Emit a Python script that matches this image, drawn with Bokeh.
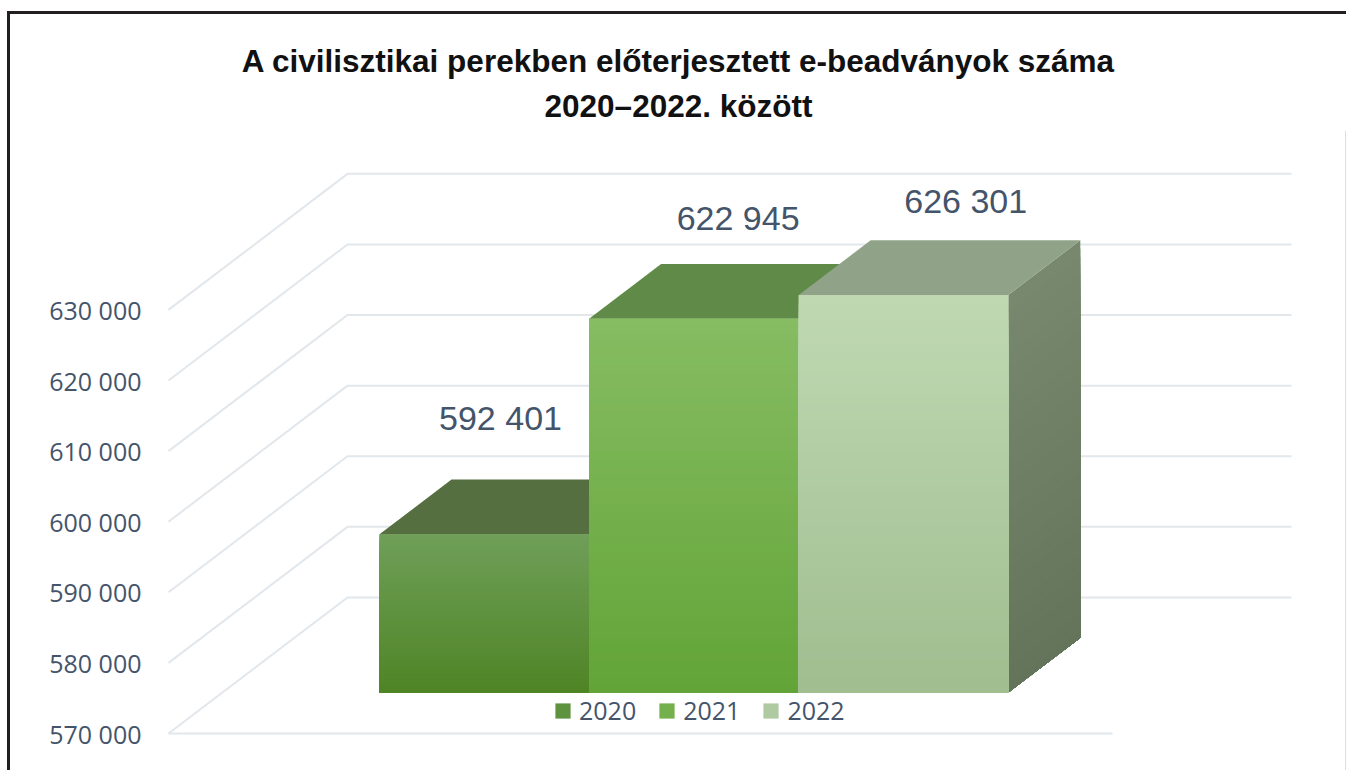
from bokeh.plotting import figure
from bokeh.models import Range1d, FixedTicker, Legend, LegendItem, Title
from bokeh.core.properties import value
from bokeh.embed import file_html
from bokeh.resources import INLINE

# ---- data ----
years = ["2020", "2021", "2022"]
counts = [592401, 622945, 626301]
count_labels = ["592 401", "622 945", "626 301"]
y_ticks = [570000, 580000, 590000, 600000, 610000, 620000, 630000]
y_tick_labels = ["570 000", "580 000", "590 000", "600 000", "610 000", "620 000", "630 000"]
title_lines = ["A civilisztikai perekben előterjesztett e-beadványok száma", "2020–2022. között"]

front_top = ["#6f9f58", "#86bc62", "#bfd8b2"]
front_bottom = ["#4f8425", "#62a437", "#9fbd8f"]
roof = ["#566f41", "#5f8a47", "#90a288"]
side_top = ["#56703f", "#5c8043", "#78886e"]
side_bottom = ["#3f5f20", "#4a7428", "#63745a"]

# ---- layout (page pixels) ----
LEFT, TOP = 10, 14             # where the canvas starts on the page
W, H = 1336, 756
FRAME_TOP = 130
PX = 0.00706                   # pixels per unit of the value axis
BASE_PY = 733                  # page y of the 570 000 front gridline
Y0 = y_ticks[0]
u = 1 / PX                     # value units per pixel

ORIGIN_X, SLANT = 168, 0.76
BACK_D = 179                   # depth of the chart box
RIGHT_W = 944                  # width of the floor
BAR_D0, BAR_DEPTH = 54, 72     # bar position in depth and bar depth
BAR_X0, BAR_W = 379, 209.6
STRIPS = 48


def lift(d):
    return d * SLANT * u


def mix(a, b, t):
    pa = [int(a[i:i + 2], 16) for i in (1, 3, 5)]
    pb = [int(b[i:i + 2], 16) for i in (1, 3, 5)]
    return "#%02x%02x%02x" % tuple(round(x + (y - x) * t) for x, y in zip(pa, pb))


p = figure(width=W, height=H, output_backend="svg", toolbar_location=None,
           x_range=Range1d(LEFT, LEFT + W),
           y_range=Range1d(Y0 - (TOP + H - BASE_PY) * u, Y0 + (BASE_PY - FRAME_TOP) * u),
           min_border_top=FRAME_TOP - TOP, min_border_left=0, min_border_right=0, min_border_bottom=0,
           margin=(TOP, 0, 0, LEFT),
           styles={"outline": "3px solid #231f20"})
p.outline_line_color = None
p.grid.visible = False
p.xaxis.visible = False
p.background_fill_color = "#ffffff"

# title, two centred lines
for line, stand in zip(reversed(title_lines), (14, 0)):
    p.add_layout(Title(text=line, align="center", offset=1, standoff=stand,
                       text_font="Liberation Sans", text_font_style="bold",
                       text_font_size="31.5px", text_color="#111111"), "above")

# value axis, on the front plane
ax = p.yaxis[0]
ax.fixed_location = 155
ax.ticker = FixedTicker(ticks=y_ticks)
ax.major_label_overrides = dict(zip(y_ticks, y_tick_labels))
ax.axis_line_color = None
ax.major_tick_line_color = None
ax.minor_tick_line_color = None
ax.major_label_text_font = "Open Sans"
ax.major_label_text_font_size = "25px"
ax.major_label_text_color = "#44546a"
ax.major_label_standoff = 8

# gridlines: the walls and the floor of the box
GRID = "#e2e7ec"
for t in y_ticks:
    xs = [ORIGIN_X, ORIGIN_X + BACK_D, ORIGIN_X + BACK_D + RIGHT_W]
    ys = [t, t + lift(BACK_D), t + lift(BACK_D)]
    p.line(xs, ys, line_color=GRID, line_width=2)
p.line([ORIGIN_X, ORIGIN_X + RIGHT_W], [Y0, Y0], line_color=GRID, line_width=2)

# bars
legend_items = []
for i, (year, v) in enumerate(zip(years, counts)):
    x0 = BAR_X0 + i * BAR_W
    x1 = x0 + BAR_W
    base = Y0 + lift(BAR_D0)
    top = base + (v - Y0)
    rise = BAR_DEPTH * SLANT * u

    # side face, painted from the top down so strips leave no seams
    side_xs, side_ys, side_cs = [], [], []
    front_t, front_c = [], []
    for s in range(STRIPS, 0, -1):
        f = s / STRIPS
        t = base + (top - base) * f
        side_xs.append([x1, x1 + BAR_DEPTH, x1 + BAR_DEPTH, x1])
        side_ys.append([base, base + rise, t + rise, t])
        side_cs.append(mix(side_bottom[i], side_top[i], f))
        front_t.append(t)
        front_c.append(mix(front_bottom[i], front_top[i], f))
    p.patches(side_xs, side_ys, fill_color=side_cs, line_color=None)

    # roof
    p.patch([x0, x1, x1 + BAR_DEPTH, x0 + BAR_DEPTH], [top, top, top + rise, top + rise],
            fill_color=roof[i], line_color=None)

    # front face; the flat base quad also gives the legend its swatch
    swatch = p.quad(left=[x0], right=[x1], bottom=[base], top=[top],
                    fill_color=mix(front_bottom[i], front_top[i], 0.5), line_color=None)
    p.quad(left=[x0] * STRIPS, right=[x1] * STRIPS, bottom=[base] * STRIPS, top=front_t,
           fill_color=front_c, line_color=None)
    legend_items.append(LegendItem(label=year, renderers=[swatch]))

# value labels above the bars
label_dx = [121, 149, 167]
label_dy = [116, 101, 94]
p.text([BAR_X0 + i * BAR_W + label_dx[i] for i in range(3)],
       [counts[i] + lift(BAR_D0) + label_dy[i] * u for i in range(3)],
       text=count_labels, text_font=value("Liberation Sans"), text_font_size="34px",
       text_color="#44546a", text_align="center", text_baseline="middle")

# thin edge at the right of the picture (same height as the plot area)
p.line([LEFT + W - 0.5, LEFT + W - 0.5], [Y0 - (TOP + H - BASE_PY) * u, Y0 + (BASE_PY - FRAME_TOP) * u],
       line_color="#bdbdbd", line_width=1)

legend = Legend(items=legend_items, orientation="horizontal", location=(543, 43),
                background_fill_alpha=0, border_line_color=None, margin=0, padding=0,
                glyph_width=19, glyph_height=19, spacing=21, label_standoff=7,
                label_text_font="Open Sans", label_text_font_size="25px", label_text_color="#44546a")
p.add_layout(legend, "center")

open("out.html", "w").write(file_html(p, INLINE))
